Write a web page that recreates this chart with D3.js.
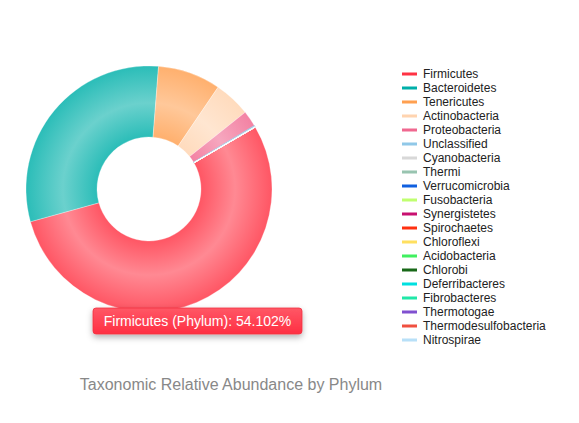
<!DOCTYPE html>
<html>
<head>
<meta charset="utf-8">
<script src="https://cdn.jsdelivr.net/npm/d3@7"></script>
<style>
  body { margin: 0; background: #fff; }
  svg { display: block; font-family: "Liberation Sans", Arial, Helvetica, sans-serif; }
</style>
</head>
<body>
<div id="chart"></div>
<script>
// 数据
const phyla = ["Firmicutes", "Bacteroidetes", "Tenericutes", "Actinobacteria", "Proteobacteria",
  "Unclassified", "Cyanobacteria", "Thermi", "Verrucomicrobia", "Fusobacteria", "Synergistetes",
  "Spirochaetes", "Chloroflexi", "Acidobacteria", "Chlorobi", "Deferribacteres", "Fibrobacteres",
  "Thermotogae", "Thermodesulfobacteria", "Nitrospirae"];
const abundance = [54.102, 30.52, 8.25, 4.8, 2.1, 0.15, 0.02, 0.01, 0.008, 0.007, 0.006,
  0.005, 0.004, 0.003, 0.003, 0.002, 0.002, 0.001, 0.001, 0.001];
const colors = ["#ff3344", "#00afa9", "#ffa050", "#ffd4b0", "#f06890", "#90c8e8", "#d8d8d8",
  "#98c4b0", "#1060e0", "#c0ff70", "#c81070", "#ff3010", "#ffe060", "#40f060", "#186818",
  "#00e0e0", "#20e8a8", "#8050d0", "#f05040", "#b8e0f8"];
const tooltipText = "Firmicutes (Phylum): 54.102%";
const title = "Taxonomic Relative Abundance by Phylum";

const width = 579, height = 423;
const cx = 149, cy = 189, outerR = 123, innerR = 52;

const svg = d3.select("#chart").append("svg")
  .attr("width", width)
  .attr("height", height);

const defs = svg.append("defs");

const data = phyla.map((name, i) => ({ name, value: abundance[i], color: colors[i] }));

// 每个扇区的径向渐变
data.forEach((d, i) => {
  const edge = d3.interpolateRgb(d.color, "#fff")(0.17);
  const mid = d3.interpolateRgb(d.color, "#fff")(0.42);
  const g = defs.append("radialGradient")
    .attr("id", "grad" + i)
    .attr("gradientUnits", "userSpaceOnUse")
    .attr("cx", 0).attr("cy", 0).attr("r", outerR);
  g.append("stop").attr("offset", innerR / outerR).attr("stop-color", edge);
  g.append("stop").attr("offset", 0.7).attr("stop-color", mid);
  g.append("stop").attr("offset", 1).attr("stop-color", edge);
});

const startA = 59.8 * Math.PI / 180;
const pie = d3.pie().sort(null).value(d => d.value)
  .startAngle(startA).endAngle(startA + 2 * Math.PI);
const arc = d3.arc().innerRadius(innerR).outerRadius(outerR);

const donut = svg.append("g").attr("transform", `translate(${cx},${cy})`);
donut.selectAll("path")
  .data(pie(data))
  .join("path")
  .attr("d", arc)
  .attr("fill", (d, i) => `url(#grad${i})`)
  .attr("stroke", (d, i) => i === 5 ? colors[5] : "#fff")
  .attr("stroke-width", (d, i) => i === 5 ? 0.8 : 0.3);

// 图例
const legend = svg.append("g").attr("transform", "translate(402,74)");
const rowH = 14;
const rows = legend.selectAll("g")
  .data(data)
  .join("g")
  .attr("transform", (d, i) => `translate(0,${i * rowH})`);
rows.append("rect")
  .attr("x", 0).attr("y", -1.5)
  .attr("width", 15).attr("height", 3)
  .attr("fill", d => d.color);
rows.append("text")
  .attr("x", 21).attr("y", 0)
  .attr("dy", "0.35em")
  .attr("font-size", 12)
  .attr("fill", "#222")
  .text(d => d.name);

// 提示框
const shadow = defs.append("filter").attr("id", "shadow")
  .attr("x", "-20%").attr("y", "-50%").attr("width", "140%").attr("height", "220%");
shadow.append("feDropShadow")
  .attr("dx", 0).attr("dy", 3).attr("stdDeviation", 3)
  .attr("flood-color", "#000").attr("flood-opacity", 0.3);
const tg = defs.append("linearGradient").attr("id", "tipGrad")
  .attr("x1", 0).attr("y1", 0).attr("x2", 0).attr("y2", 1);
tg.append("stop").attr("offset", 0).attr("stop-color", "#ff5766");
tg.append("stop").attr("offset", 1).attr("stop-color", "#ff2f42");

const tip = svg.append("g").attr("transform", "translate(93,308)");
tip.append("rect")
  .attr("width", 209).attr("height", 26).attr("rx", 3)
  .attr("fill", "url(#tipGrad)")
  .attr("stroke", "#f0303f").attr("stroke-width", 0.8)
  .attr("filter", "url(#shadow)");
tip.append("text")
  .attr("x", 104.5).attr("y", 13).attr("dy", "0.35em")
  .attr("text-anchor", "middle")
  .attr("font-size", 14)
  .attr("fill", "#fff")
  .text(tooltipText);

// 标题
svg.append("text")
  .attr("x", 231).attr("y", 384)
  .attr("dy", "0.35em")
  .attr("text-anchor", "middle")
  .attr("font-size", 16)
  .attr("fill", "#888")
  .text(title);
</script>
</body>
</html>
